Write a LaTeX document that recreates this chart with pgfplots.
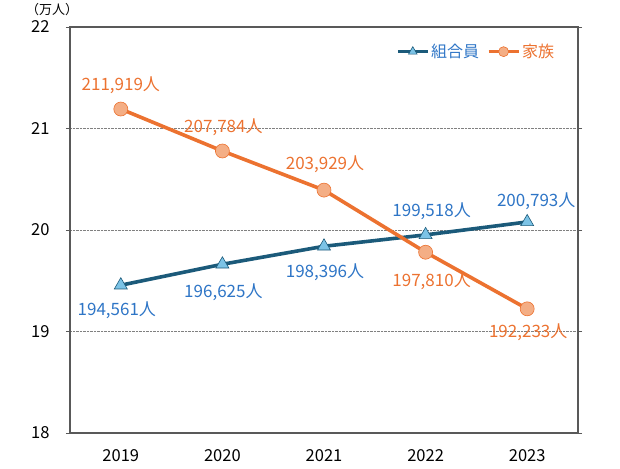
\documentclass[border=0pt]{standalone}
\usepackage{pgfplots}
\pgfplotsset{compat=1.18}
\usepackage{pgfplotstable}
\usepackage{fontspec}
\setmainfont{Noto Sans CJK JP}
\definecolor{kumiline}{HTML}{1B5A7A}
\definecolor{kumifill}{HTML}{7CC3E6}
\definecolor{kumitext}{HTML}{2E75C6}
\definecolor{kazoku}{HTML}{EC7230}
\definecolor{kazokufill}{HTML}{F4AE85}
\definecolor{axisgray}{HTML}{595959}

\pgfplotstableread{
x y dx dy label
0 19.4561 -4 -25 194,561人
1 19.6625 1 -28 196,625人
2 19.8396 1 -26 198,396人
3 19.9518 6 24 199,518人
4 20.0793 9 21 200,793人
}\kumi
\pgfplotstableread{
x y dx dy label
0 21.1919 0 24 211,919人
1 20.7784 1 24 207,784人
2 20.3929 1 26 203,929人
3 19.7810 6 -29 197,810人
4 19.2233 1 -23 192,233人
}\kazoku

\begin{document}
\begin{tikzpicture}
\begin{axis}[
  scale only axis,
  width=508pt, height=406pt,
  xmin=-0.5, xmax=4.5,
  ymin=18, ymax=22,
  xtick={0,1,2,3,4},
  xticklabels={2019,2020,2021,2022,2023},
  major x tick style={draw=none},
  extra x ticks={0.5,1.5,2.5,3.5},
  extra x tick labels={},
  extra x tick style={major tick length=5pt, tick align=inside, tick style={axisgray, line width=0.8pt}, grid=none},
  ytick={18,19,20,21,22},
  ymajorgrids,
  grid style={densely dotted, gray, line width=0.6pt},
  y tick style={axisgray, line width=0.8pt},
  major tick length=4pt,
  tick align=outside,
  axis line style={axisgray, line width=1.2pt},
  tick label style={font=\fontsize{16.5}{18}\selectfont, black},
  /pgf/number format/assume math mode=true,
  xticklabel style={yshift=-9pt},
  yticklabel style={xshift=-13pt},
  legend style={draw=none, fill=none, at={(0.963,0.968)}, anchor=north east,
    font=\fontsize{16}{18}\selectfont, legend columns=2,
    /tikz/every even column/.append style={column sep=6pt},
    /tikz/every odd column/.append style={column sep=0pt}},
  legend image code/.code={
    \draw[#1, mark=none, line width=2.8pt] (0cm,0cm) -- (30pt,0cm);
    \path[#1, mark size=5pt] plot coordinates {(15pt,0cm)};
  },
  clip=false,
  nodes near coords,
  point meta=explicit symbolic,
  visualization depends on={\thisrow{dx} \as \dx},
  visualization depends on={\thisrow{dy} \as \dy},
  nodes near coords style={anchor=center, xshift=\dx pt, yshift=\dy pt, font=\fontsize{17}{19}\selectfont},
]
\addplot[kumiline, line width=3.6pt, mark=triangle*, mark size=7.5pt,
  mark options={fill=kumifill, draw=kumiline, line width=0.6pt},
  nodes near coords style={text=kumitext}]
  table[x=x, y=y, meta=label] {\kumi};
\addlegendentry{\textcolor{kumitext}{組合員}}
\addplot[kazoku, line width=3.6pt, mark=*, mark size=7pt,
  mark options={fill=kazokufill, draw=kazoku, line width=0.6pt},
  nodes near coords style={text=kazoku}]
  table[x=x, y=y, meta=label] {\kazoku};
\addlegendentry{\textcolor{kazoku}{家族}}
\node[font=\fontsize{13}{15}\selectfont, anchor=center] at (rel axis cs:-0.035,1.042) {（万人）};
\end{axis}
\path (current axis.south west) ++(-70pt,-35pt) rectangle ++(620pt,468pt);
\end{tikzpicture}
\end{document}
